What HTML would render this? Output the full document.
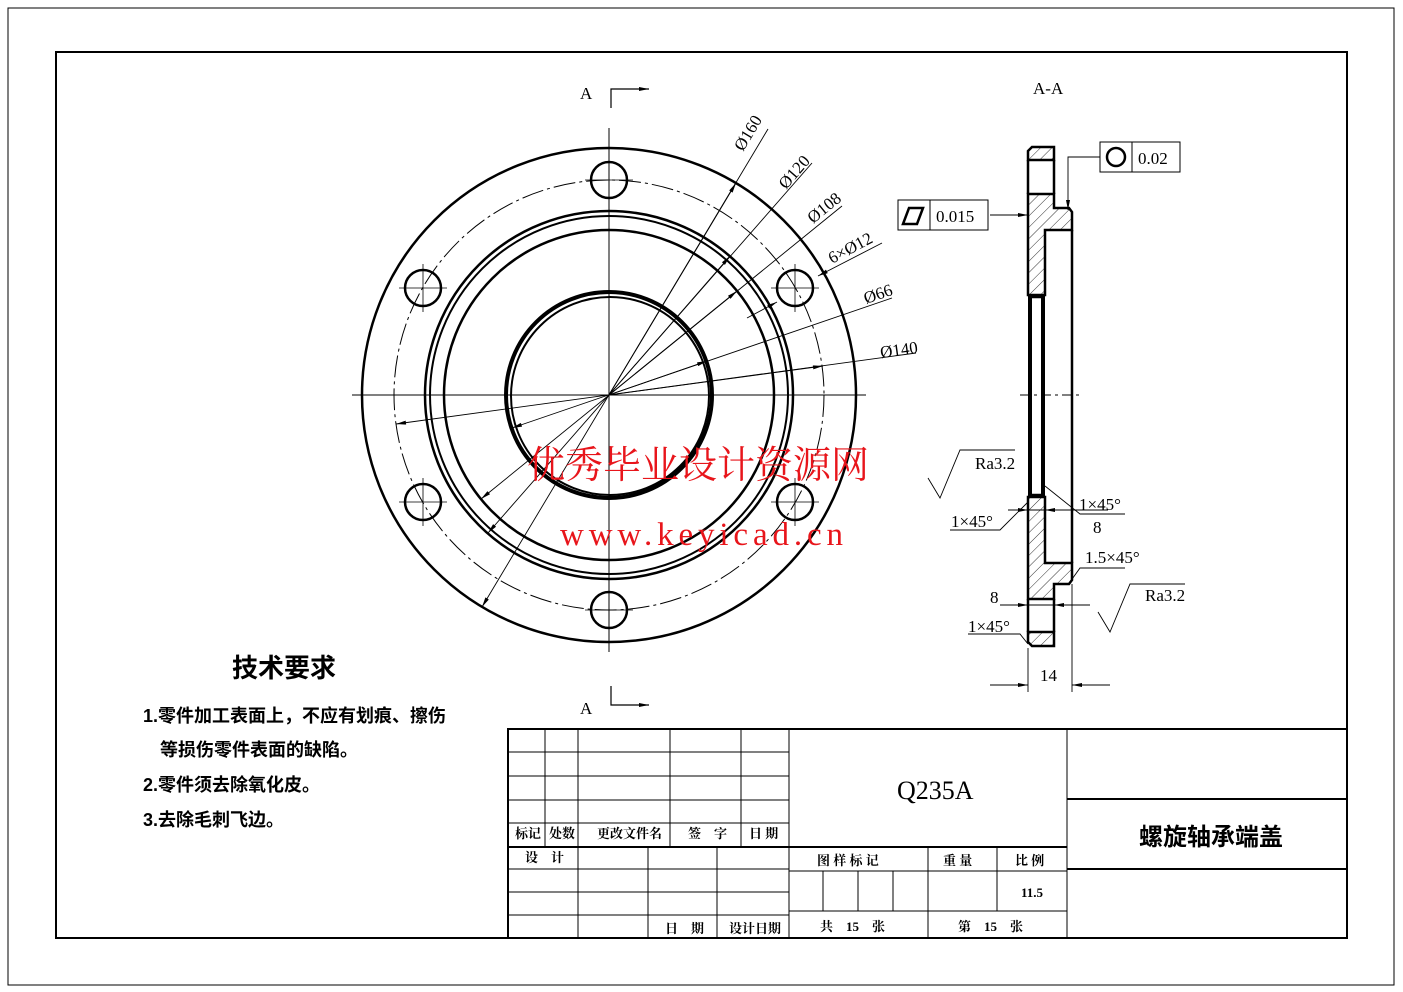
<!DOCTYPE html>
<html><head><meta charset="utf-8"><style>
html,body{margin:0;padding:0;background:#fff;}
svg{display:block;}
text{font-family:"Liberation Serif","Noto Serif CJK SC",serif;fill:#000;}
.c{font-family:"Liberation Sans","Noto Sans CJK SC",sans-serif;font-weight:bold;}
</style></head><body>
<svg width="1403" height="992" viewBox="0 0 1403 992" xmlns="http://www.w3.org/2000/svg">
<defs>
<marker id="ar" viewBox="0 0 10 4" refX="10" refY="2" markerWidth="12" markerHeight="4" markerUnits="userSpaceOnUse" orient="auto"><path d="M0,0L10,2L0,4z" fill="#000"/></marker>
<pattern id="h" width="8" height="8" patternUnits="userSpaceOnUse" patternTransform="rotate(45)"><line x1="0" y1="0" x2="0" y2="8" stroke="#000" stroke-width="0.8"/></pattern>
</defs>
<rect x="8" y="8" width="1386" height="977" fill="none" stroke="#000" stroke-width="1"/>
<rect x="56" y="52" width="1291" height="886" fill="none" stroke="#000" stroke-width="2"/>

<!-- front view -->
<g fill="none" stroke="#000">
<line x1="352" y1="395" x2="866" y2="395" stroke-width="1"/>
<line x1="609" y1="128" x2="609" y2="652" stroke-width="1"/>
<circle cx="609" cy="395" r="247" stroke-width="2.5"/>
<circle cx="609" cy="395" r="215" stroke-width="1" stroke-dasharray="22,4,3,4"/>
<circle cx="609" cy="395" r="184" stroke-width="2.5"/>
<circle cx="609" cy="395" r="179" stroke-width="2"/>
<circle cx="609" cy="395" r="165" stroke-width="2.5"/>
<circle cx="609" cy="395" r="103" stroke-width="4"/>
<circle cx="610" cy="396" r="99" stroke-width="2"/>
<g stroke-width="2.5">
<circle cx="609" cy="180" r="18"/><circle cx="609" cy="610" r="18"/>
<circle cx="423" cy="288" r="18"/><circle cx="795" cy="288" r="18"/>
<circle cx="423" cy="502" r="18"/><circle cx="795" cy="502" r="18"/>
</g>
<g stroke-width="0.8">
<path d="M585,180h48M609,156v48M585,610h48M609,586v48M399,288h48M423,264v48M771,288h48M795,264v48M399,502h48M423,478v48M771,502h48M795,478v48"/>
</g>
<g stroke-width="0.9">
<line x1="768" y1="129" x2="482" y2="607" marker-end="url(#ar)"/>
<line x1="609" y1="395" x2="736" y2="183" marker-end="url(#ar)"/>
<line x1="812" y1="163" x2="488" y2="533" marker-end="url(#ar)"/>
<line x1="609" y1="395" x2="730" y2="256" marker-end="url(#ar)"/>
<line x1="842" y1="206" x2="481" y2="499" marker-end="url(#ar)"/>
<line x1="609" y1="395" x2="737" y2="291" marker-end="url(#ar)"/>
<line x1="882" y1="243" x2="818" y2="276" marker-end="url(#ar)"/>
<line x1="747" y1="318" x2="777" y2="302" marker-end="url(#ar)"/>
<line x1="892" y1="298" x2="512" y2="428" marker-end="url(#ar)"/>
<line x1="609" y1="395" x2="707" y2="361" marker-end="url(#ar)"/>
<line x1="916" y1="353" x2="396" y2="424" marker-end="url(#ar)"/>
<line x1="609" y1="395" x2="823" y2="366" marker-end="url(#ar)"/>
</g>
<path d="M611,108V89h38" stroke-width="1.2" marker-end="url(#ar)"/>
<path d="M611,686v19h38" stroke-width="1.2" marker-end="url(#ar)"/>
</g>
<g font-size="17">
<text x="580" y="99">A</text><text x="580" y="714">A</text>
<text transform="translate(743,152) rotate(-59)">Ø160</text>
<text transform="translate(786,190) rotate(-49)">Ø120</text>
<text transform="translate(813,224) rotate(-39)">Ø108</text>
<text transform="translate(832,264) rotate(-28)">6×Ø12</text>
<text transform="translate(866,304) rotate(-19)">Ø66</text>
<text transform="translate(881,358) rotate(-8)">Ø140</text>
<text x="1033" y="94">A-A</text>
</g>

<!-- section view -->
<g stroke="#000" fill="none">
<path d="M1028,160h26v-13h-22l-4,4z" fill="url(#h)" stroke-width="2.5"/>
<path d="M1028,194h26v14h15l3,4v18h-27v65h-17z" fill="url(#h)" stroke-width="2.5"/>
<path d="M1028,497h17v66h27v17l-3,4h-15v15h-26z" fill="url(#h)" stroke-width="2.5"/>
<path d="M1028,632h26v14h-22l-4,-4z" fill="url(#h)" stroke-width="2.5"/>
<path d="M1054,160v34M1028,160v34M1054,599v33M1028,599v33" stroke-width="2.5"/>
<path d="M1072,230v333" stroke-width="2.5"/>
<rect x="1028" y="295" width="4" height="202" fill="#000" stroke="none"/>
<rect x="1041" y="295" width="4" height="202" fill="#000" stroke="none"/>
<line x1="1028" y1="297" x2="1045" y2="297" stroke-width="2.5"/>
<line x1="1028" y1="495" x2="1045" y2="495" stroke-width="2.5"/>
<line x1="1020" y1="395" x2="1080" y2="395" stroke-width="1" stroke-dasharray="10,4,3,4"/>
<g stroke-width="0.9">
<line x1="1028" y1="648" x2="1028" y2="692"/><line x1="1072" y1="584" x2="1072" y2="692"/>
<line x1="990" y1="685" x2="1028" y2="685" marker-end="url(#ar)"/>
<line x1="1110" y1="685" x2="1072" y2="685" marker-end="url(#ar)"/>
<line x1="1008" y1="510" x2="1028" y2="510" marker-end="url(#ar)"/>
<line x1="1075" y1="510" x2="1045" y2="510" marker-end="url(#ar)"/>
<line x1="1028" y1="510" x2="1108" y2="510"/>
<line x1="1000" y1="605" x2="1028" y2="605" marker-end="url(#ar)"/>
<line x1="1090" y1="605" x2="1054" y2="605" marker-end="url(#ar)"/>
<line x1="1028" y1="605" x2="1054" y2="605"/>
<path d="M950,530h50l28,-28M1125,514h-45l-35,-28M1125,568h-45l-10,14M968,634h52l8,10"/>
<path d="M1068,165V210" marker-end="url(#ar)"/>
<path d="M1068,165v-8h32"/>
<path d="M990,215h38" marker-end="url(#ar)"/>
<path d="M928,478l12,20l20,-48h55"/>
<path d="M1098,612l12,20l20,-48h55"/>
</g>
<rect x="1100" y="142" width="80" height="30" stroke-width="1"/>
<line x1="1132" y1="142" x2="1132" y2="172" stroke-width="1"/>
<circle cx="1116" cy="157" r="9" stroke-width="2.5"/>
<rect x="898" y="200" width="90" height="30" stroke-width="1"/>
<line x1="930" y1="200" x2="930" y2="230" stroke-width="1"/>
<path d="M903,224l6,-16h14l-6,16z" stroke-width="2.5"/>
</g>
<g font-size="17">
<text x="1138" y="164">0.02</text>
<text x="936" y="222">0.015</text>
<text x="975" y="469">Ra3.2</text>
<text x="1145" y="601">Ra3.2</text>
<text x="1079" y="510">1×45°</text>
<text x="951" y="527">1×45°</text>
<text x="1093" y="533">8</text>
<text x="1085" y="563">1.5×45°</text>
<text x="990" y="603">8</text>
<text x="968" y="632">1×45°</text>
<text x="1040" y="681">14</text>
</g>

<!-- tech requirements -->
<text x="232" y="677" font-size="26" class="c">技术要求</text>
<text x="143" y="722" font-size="18" class="c">1.零件加工表面上，不应有划痕、擦伤</text>
<text x="160" y="756" font-size="18" class="c">等损伤零件表面的缺陷。</text>
<text x="143" y="791" font-size="18" class="c">2.零件须去除氧化皮。</text>
<text x="143" y="826" font-size="18" class="c">3.去除毛刺飞边。</text>

<!-- title block -->
<g stroke="#000" fill="none" stroke-width="1">
<rect x="508" y="729" width="839" height="209" stroke-width="2"/>
<path d="M508,752h281M508,776h281M508,800h281M508,823h281M789,729v209M1067,729v209"/>
<path d="M508,847h559" stroke-width="2"/>
<path d="M545,729v118M578,729v209M670,729v118M741,729v118"/>
<path d="M648,847v91M717,847v91M508,869h281M508,892h281M508,915h281"/>
<path d="M789,871h278M789,911h278M928,847v91M997,847v64M823,871v40M858,871v40M893,871v40"/>
<path d="M1067,799h280M1067,869h280" stroke-width="2"/>
</g>
<g class="c" font-size="13">
<text x="515" y="838">标记</text><text x="549" y="838">处数</text><text x="597" y="838">更改文件名</text>
<text x="688" y="838">签　字</text><text x="749" y="838">日 期</text>
<text x="525" y="862">设　计</text>
<text x="665" y="933">日　期</text><text x="729" y="933">设计日期</text>
<text x="817" y="865">图 样 标 记</text><text x="943" y="865">重 量</text><text x="1015" y="865">比 例</text>
<text x="1021" y="897">11.5</text>
<text x="820" y="931">共　15　张</text><text x="958" y="931">第　15　张</text>
</g>
<text x="897" y="799" font-size="26" font-family="Liberation Sans Narrow, Liberation Sans, sans-serif">Q235A</text>
<text x="1139" y="845" font-size="24" class="c">螺旋轴承端盖</text>

<!-- watermark -->
<text x="527" y="478" font-size="38" style="fill:#e8151b">优秀毕业设计资源网</text>
<text x="560" y="545" font-size="33" letter-spacing="2" textLength="285" lengthAdjust="spacing" style="fill:#e8151b">www.keyicad.cn</text>
</svg>
</body></html>
